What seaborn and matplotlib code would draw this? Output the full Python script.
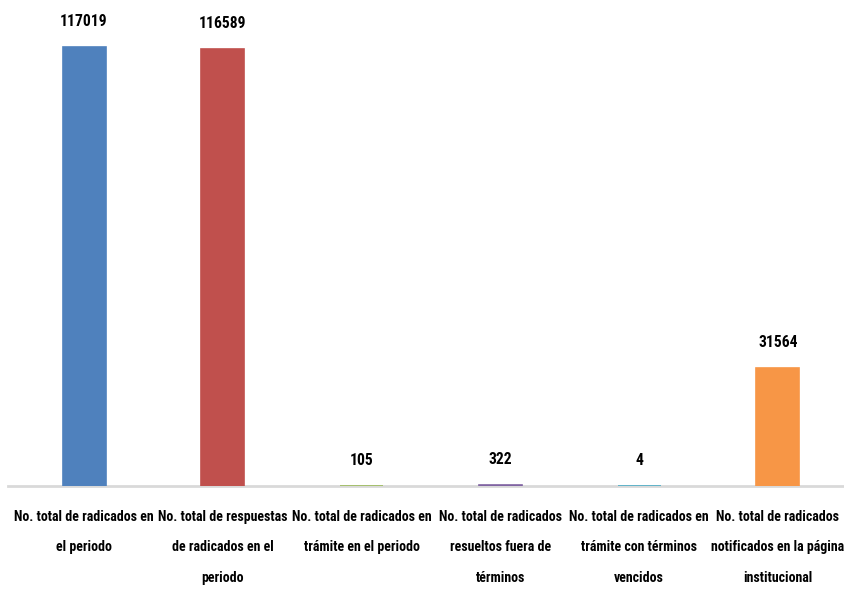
import matplotlib
matplotlib.use("Agg")
import matplotlib.pyplot as plt
import seaborn as sns
import pandas as pd
from matplotlib import font_manager

categories = [
    "No. total de radicados en\nel periodo",
    "No. total de respuestas\nde radicados en el\nperiodo",
    "No. total de radicados en\ntrámite en el periodo",
    "No. total de radicados\nresueltos fuera de\ntérminos",
    "No. total de radicados en\ntrámite con términos\nvencidos",
    "No. total de radicados\nnotificados en la página\ninstitucional",
]
values = [117019, 116589, 105, 322, 4, 31564]
colors = ["#4F81BD", "#C0504D", "#9BBB59", "#8064A2", "#4BACC6", "#F79646"]

sns.set_theme(style="white")
names = {f.name for f in font_manager.fontManager.ttflist}
fam = "DejaVu Sans"
for cand in ["Liberation Sans Narrow", "Roboto Condensed", "Open Sans Condensed", "Roboto", "Liberation Sans"]:
    if cand in names:
        fam = cand
        break
plt.rcParams["font.family"] = [fam, "DejaVu Sans"]

df = pd.DataFrame({"cat": categories, "val": values})

fig = plt.figure(figsize=(8.44, 5.90), dpi=100)
ax = fig.add_axes([8 / 844, (590 - 486) / 590, 836 / 844, 486 / 590])
sns.barplot(data=df, x="cat", y="val", hue="cat", palette=colors, legend=False,
            width=0.31, ax=ax, saturation=1)
for p in ax.patches:
    p.set_edgecolor(p.get_facecolor())
    p.set_linewidth(1.2)

ax.set_xlim(-0.548, 5.476)
ax.set_ylim(0, 129550)
for s in ["top", "right", "left"]:
    ax.spines[s].set_visible(False)
ax.spines["bottom"].set_color("#D9D9D9")
ax.spines["bottom"].set_linewidth(2)
ax.spines["bottom"].set_zorder(0.5)
ax.set_yticks([])
ax.set_xlabel("")
ax.set_ylabel("")

renderer = fig.canvas.get_renderer()
probe = fig.text(0, 0, "No. total de radicados en", fontsize=10, fontweight="bold")
w = probe.get_window_extent(renderer).width
probe.remove()
fs = 10 * 140 / w

ax.tick_params(axis="x", length=0, pad=17)
for lbl in ax.get_xticklabels():
    lbl.set_fontsize(fs)
    lbl.set_fontweight("bold")
    lbl.set_color("black")
    lbl.set_linespacing(1.4 * 30 / (fs * 100 / 72) / 1.2)
    lbl.set_verticalalignment("top")

probe = fig.text(0, 0, "117019", fontsize=10, fontweight="bold")
w2 = probe.get_window_extent(renderer).width
probe.remove()
fs2 = 10 * 48 / w2

for i, v in enumerate(values):
    ax.annotate(str(v), (i, v), xytext=(0, 13), textcoords="offset points",
                ha="center", va="bottom", fontsize=fs2, fontweight="bold",
                color="black", annotation_clip=False)

fig.savefig("out.png", dpi=100)
